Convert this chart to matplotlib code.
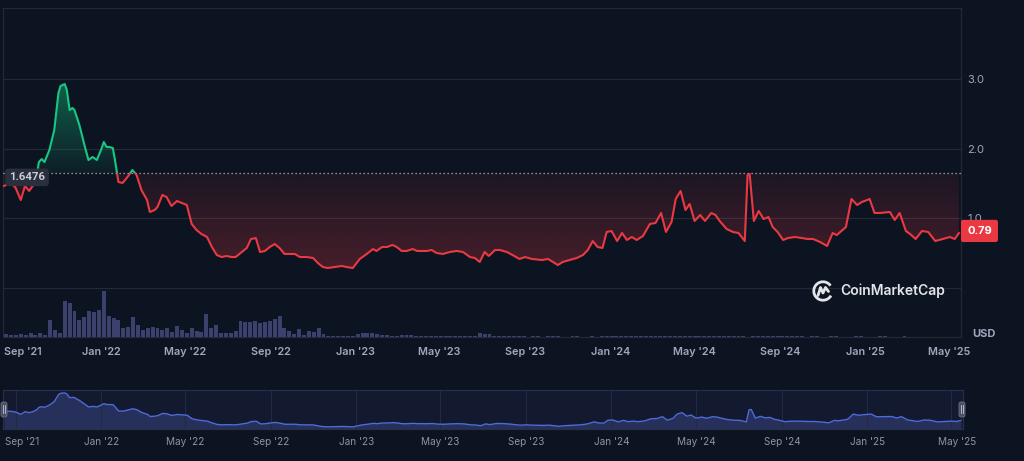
import matplotlib
matplotlib.use('Agg')
import matplotlib.pyplot as plt
import matplotlib.dates as mdates
from matplotlib.colors import to_rgb
from matplotlib.path import Path
from matplotlib.patches import Rectangle, FancyBboxPatch, Arc
from matplotlib.lines import Line2D
import numpy as np
import pandas as pd

plt.rcParams['font.family'] = ['Inter', 'DejaVu Sans']

BG = '#0d1421'
GRID = '#242936'
TXT = '#a1a7bb'
GREEN = '#16c784'
RED = '#ea3943'

# price trace (USD)
price_dates = [
    '2021-08-15', '2021-08-23', '2021-08-31', '2021-09-08', '2021-09-14', '2021-09-20', '2021-09-25',
    '2021-10-01', '2021-10-04', '2021-10-08', '2021-10-12', '2021-10-19', '2021-10-26', '2021-11-01',
    '2021-11-04', '2021-11-10', '2021-11-13', '2021-11-17', '2021-11-21', '2021-11-24', '2021-12-01',
    '2021-12-09', '2021-12-14', '2021-12-20', '2021-12-26', '2022-01-01', '2022-01-05', '2022-01-09',
    '2022-01-13', '2022-01-18', '2022-01-21', '2022-01-24', '2022-01-26', '2022-02-01', '2022-02-08',
    '2022-02-15', '2022-02-21', '2022-02-28', '2022-03-08', '2022-03-12', '2022-03-19', '2022-03-23',
    '2022-03-30', '2022-04-05', '2022-04-12', '2022-04-20', '2022-04-27', '2022-05-04', '2022-05-11',
    '2022-05-18', '2022-05-25', '2022-06-02', '2022-06-09', '2022-06-16', '2022-06-23', '2022-06-30',
    '2022-07-07', '2022-07-13', '2022-07-22', '2022-07-29', '2022-08-04', '2022-08-11', '2022-08-17',
    '2022-08-24', '2022-08-31', '2022-09-07', '2022-09-14', '2022-09-21', '2022-09-29', '2022-10-06',
    '2022-10-13', '2022-10-23', '2022-11-01', '2022-11-08', '2022-11-15', '2022-11-22', '2022-12-02',
    '2022-12-12', '2022-12-19', '2022-12-28', '2023-01-07', '2023-01-17', '2023-01-26', '2023-01-31',
    '2023-02-08', '2023-02-15', '2023-02-23', '2023-03-01', '2023-03-08', '2023-03-15', '2023-03-24',
    '2023-03-30', '2023-04-13', '2023-04-20', '2023-04-27', '2023-05-06', '2023-05-16', '2023-05-26',
    '2023-06-04', '2023-06-14', '2023-06-21', '2023-06-28', '2023-07-05', '2023-07-11', '2023-07-20',
    '2023-07-27', '2023-08-06', '2023-08-14', '2023-08-24', '2023-09-01', '2023-09-11', '2023-09-25',
    '2023-10-04', '2023-10-11', '2023-10-18', '2023-10-25', '2023-11-04', '2023-11-14', '2023-11-23',
    '2023-11-30', '2023-12-07', '2023-12-14', '2023-12-21', '2023-12-27', '2024-01-03', '2024-01-11',
    '2024-01-18', '2024-01-25', '2024-02-01', '2024-02-08', '2024-02-17', '2024-02-27', '2024-03-06',
    '2024-03-14', '2024-03-21', '2024-03-29', '2024-04-04', '2024-04-11', '2024-04-18', '2024-04-24',
    '2024-05-01', '2024-05-09', '2024-05-16', '2024-05-25', '2024-05-31', '2024-06-06', '2024-06-16',
    '2024-06-25', '2024-07-03', '2024-07-12', '2024-07-16', '2024-07-19', '2024-07-25', '2024-08-01',
    '2024-08-08', '2024-08-15', '2024-08-21', '2024-08-28', '2024-09-05', '2024-09-12', '2024-09-22',
    '2024-10-02', '2024-10-10', '2024-10-18', '2024-10-28', '2024-11-07', '2024-11-15', '2024-11-21',
    '2024-12-04', '2024-12-12', '2024-12-20', '2024-12-27', '2025-01-07', '2025-01-14', '2025-01-22',
    '2025-02-05', '2025-02-12', '2025-02-19', '2025-02-28', '2025-03-06', '2025-03-14', '2025-03-23',
    '2025-04-01', '2025-04-11', '2025-04-22', '2025-05-02', '2025-05-09', '2025-05-15',
]
price_usd = [
    1.466, 1.509, 1.451, 1.264, 1.466, 1.394, 1.466,
    1.624, 1.810, 1.853, 1.810, 1.983, 2.270, 2.802,
    2.902, 2.931, 2.845, 2.557, 2.586, 2.557, 2.342,
    2.026, 1.839, 1.882, 1.839, 1.983, 2.098, 2.026,
    2.026, 2.011, 1.839, 1.652, 1.523, 1.509, 1.595,
    1.695, 1.624, 1.408, 1.264, 1.092, 1.121, 1.164,
    1.336, 1.307, 1.178, 1.250, 1.221, 1.193, 0.920,
    0.833, 0.776, 0.733, 0.589, 0.474, 0.445, 0.460,
    0.445, 0.445, 0.517, 0.575, 0.704, 0.718, 0.517,
    0.532, 0.589, 0.632, 0.575, 0.489, 0.489, 0.489,
    0.445, 0.445, 0.431, 0.359, 0.302, 0.287, 0.302,
    0.316, 0.302, 0.287, 0.417, 0.489, 0.560, 0.532,
    0.589, 0.589, 0.618, 0.589, 0.532, 0.532, 0.560,
    0.532, 0.532, 0.546, 0.503, 0.489, 0.517, 0.532,
    0.517, 0.445, 0.431, 0.374, 0.517, 0.460, 0.546,
    0.546, 0.517, 0.474, 0.417, 0.445, 0.417, 0.402,
    0.417, 0.374, 0.330, 0.374, 0.402, 0.431, 0.474,
    0.546, 0.675, 0.589, 0.575, 0.805, 0.819, 0.675,
    0.790, 0.690, 0.733, 0.690, 0.747, 0.920, 0.934,
    1.078, 0.805, 0.948, 1.279, 1.394, 1.121, 1.207,
    0.963, 1.049, 0.963, 1.078, 1.049, 0.963, 0.848,
    0.805, 0.790, 0.675, 1.624, 1.638, 0.963, 1.106,
    0.991, 1.020, 0.876, 0.805, 0.690, 0.718, 0.733,
    0.718, 0.704, 0.704, 0.661, 0.603, 0.790, 0.761,
    0.876, 1.279, 1.193, 1.236, 1.279, 1.078, 1.078,
    1.092, 0.977, 1.078, 0.819, 0.776, 0.704, 0.819,
    0.805, 0.675, 0.704, 0.733, 0.704, 0.790,
]
base_price = 1.6476
last_price = 0.79

# weekly volume bars (relative height)
vol_first_week = '2021-08-18'
volume_rel = [
    3, 2, 2, 3, 2, 4, 2, 4, 2, 17, 7, 4, 36, 34, 26, 17, 20, 26, 25, 27,
    46, 21, 19, 17, 9, 10, 20, 12, 7, 9, 10, 9, 7, 9, 5, 11, 7, 4, 9, 6,
    5, 23, 9, 12, 4, 4, 4, 6, 16, 15, 15, 16, 14, 15, 16, 18, 21, 9, 6, 3,
    8, 2, 6, 5, 9, 3, 1.5, 1.5, 1, 1, 1, 1.5, 3, 4, 4, 4, 3.5, 2, 2, 1.5,
    1, 2, 2, 2, 1, 1, 1, 1, 1, 1, 1, 1, 1, 1, 1, 1, 1, 4, 3, 3,
    1, 0.8, 0.7, 0.6, 0.6, 0.7, 0.6, 0.5, 0.6, 0.6, 0.5, 0.6, 0.7, 0.6, 0.5, 0.5, 0.6, 0.6, 0.5, 0.5,
    0.6, 0.5, 0.6, 0.7, 0.7, 0.6, 0.6, 0.7, 0.8, 0.7, 0.6, 0.6, 0.7, 0.7, 0.8, 0.8, 0.7, 0.6, 0.7, 0.8,
    0.9, 0.8, 0.7, 0.7, 0.6, 0.6, 0.7, 0.6, 0.6, 0.7, 0.6, 0.6, 0.5, 0.6, 0.6, 0.6, 0.7, 0.8, 0.7, 0.7,
    0.7, 0.6, 0.6, 0.6, 0.5, 0.6, 0.6, 0.5, 0.5, 0.6, 0.6, 0.5, 0.5, 0.5, 0.6, 0.6, 0.5, 0.5, 0.5, 0.6,
    0.6, 0.5, 0.5, 0.5, 0.6, 0.5, 0.5, 0.5, 0.5, 0.5, 0.5, 0.5, 0.5, 0.5, 0.5,
]

tick_dates = ['2021-09-01', '2022-01-01', '2022-05-01', '2022-09-01', '2023-01-01', '2023-05-01',
              '2023-09-01', '2024-01-01', '2024-05-01', '2024-09-01', '2025-01-01', '2025-05-01']
tick_labels = ["Sep '21", "Jan '22", "May '22", "Sep '22", "Jan '23", "May '23",
               "Sep '23", "Jan '24", "May '24", "Sep '24", "Jan '25", "May '25"]
y_ticks = [0, 1, 2, 3]
y_labels = ['', '1.0', '2.0', '3.0']

x = pd.to_datetime(price_dates)
y = np.array(price_usd)
vol_x = pd.date_range(vol_first_week, periods=len(volume_rel), freq='7D')
ticks = pd.to_datetime(tick_dates)
x_left = pd.Timestamp('2021-08-13 12:00')
x_right = pd.Timestamp('2025-05-18')

W, H = 1024, 461
fig = plt.figure(figsize=(W / 100, H / 100), dpi=100, facecolor=BG)


def gradient_fill(ax, x, y, base, color, above, a_near, a_far):
    xn = mdates.date2num(x)
    if above:
        coll = ax.fill_between(x, y, base, where=y >= base, interpolate=True,
                               facecolor='none', edgecolor='none')
        y0, y1 = base, y.max()
        alphas = np.linspace(a_near, a_far, 256)
    else:
        coll = ax.fill_between(x, y, base, where=y <= base, interpolate=True,
                               facecolor='none', edgecolor='none')
        y0, y1 = y.min(), base
        alphas = np.linspace(a_far, a_near, 256)
    rgba = np.zeros((256, 1, 4))
    rgba[..., :3] = to_rgb(color)
    rgba[..., 3] = alphas[:, None]
    im = ax.imshow(rgba, extent=[xn[0], xn[-1], y0, y1], origin='lower',
                   aspect='auto', zorder=2, interpolation='bilinear')
    clip = Path.make_compound_path(*coll.get_paths())
    im.set_clip_path(clip, transform=ax.transData)


# ---- main price panel
ax = fig.add_axes([3 / W, 1 - 337 / H, 958 / W, 329 / H])
ax.set_facecolor(BG)
ln_g, = ax.plot(x, y, color=GREEN, lw=1.5, zorder=4, solid_joinstyle='round')
ln_r, = ax.plot(x, y, color=RED, lw=1.5, zorder=4, solid_joinstyle='round')
xn = mdates.date2num(x)
ln_g.set_clip_path(Rectangle((xn[0] - 100, base_price), 3000, 10, transform=ax.transData))
ln_r.set_clip_path(Rectangle((xn[0] - 100, -10), 3000, base_price + 10, transform=ax.transData))

gradient_fill(ax, x, y, base_price, GREEN, True, 0.06, 0.42)
gradient_fill(ax, x, y, base_price, RED, False, 0.07, 0.26)

ax.axhline(base_price, color='#b8bcc8', lw=0.9, ls=(0, (1, 2.2)), zorder=3)

ax.set_xlim(x_left, x_right)
ax.set_ylim(-0.704, 4.023)
ax.set_yticks(y_ticks)
ax.set_yticklabels(y_labels)
ax.yaxis.tick_right()
ax.tick_params(axis='y', length=0, pad=4.5, labelsize=8, labelcolor=TXT)
ax.set_xticks(ticks)
ax.set_xticklabels([])
ax.tick_params(axis='x', length=0)
ax.grid(axis='y', color=GRID, lw=0.9)
for s in ax.spines.values():
    s.set_color(GRID)
    s.set_linewidth(0.9)

for i, (t, lab) in enumerate(zip(ticks, tick_labels)):
    dx = 4.7 if i == 0 else 0
    ax.annotate(lab, xy=(t, 0), xycoords=('data', 'axes fraction'),
                xytext=(dx, -10.8), textcoords='offset points', ha='center', va='center',
                fontsize=7.8, color=TXT, fontweight='semibold')

ax.annotate('USD', xy=(1, 0), xycoords='axes fraction', xytext=(8, 2.2),
            textcoords='offset points', ha='left', va='center',
            fontsize=8, color=TXT, fontweight='bold')

# baseline and last price tags
ax.annotate('1.6476', xy=(0, base_price), xycoords=('axes fraction', 'data'),
            xytext=(17.3, -2.9), textcoords='offset points', ha='center', va='center',
            fontsize=8.2, color='#c9ccd6', fontweight='semibold', zorder=6,
            fontfamily=['Roboto', 'DejaVu Sans'],
            bbox=dict(boxstyle='round,pad=0.33,rounding_size=0.25', fc='#2a2f3d', ec='none'))
ax.annotate(f'{last_price:.2f}', xy=(1, last_price), xycoords=('axes fraction', 'data'),
            xytext=(13.3, 1.5), textcoords='offset points', ha='center', va='center',
            fontsize=8, color='white', fontweight='bold', zorder=6, annotation_clip=False,
            bbox=dict(boxstyle='round,pad=0.55,rounding_size=0.2', fc=RED, ec='none'))

# ---- volume bars
axv = fig.add_axes([3 / W, 1 - 337 / H, 958 / W, 49 / H])
axv.patch.set_alpha(0)
axv.bar(vol_x, volume_rel, width=5.6, color='#3b416c', align='center')
axv.set_xlim(x_left, x_right)
axv.set_ylim(0, 49)
axv.axis('off')

# ---- watermark
trans = fig.dpi_scale_trans
cx, cy, r = 8.23, (H - 291) / 100, 0.092
fig.add_artist(Arc((cx, cy), 2 * r, 2 * r, theta1=35, theta2=330, transform=trans,
                   color='#e3e5ea', lw=2.0))
mx = [cx - 0.05, cx - 0.025, cx, cx + 0.025, cx + 0.055]
my = [cy - 0.045, cy + 0.035, cy - 0.02, cy + 0.035, cy - 0.005]
fig.add_artist(Line2D(mx, my, transform=trans, color='#e3e5ea', lw=2.0,
                      solid_joinstyle='round', solid_capstyle='round'))
fig.text(840 / W, 1 - 291 / H, 'CoinMarketCap', ha='left', va='center',
         fontsize=10, color='#e3e5ea', fontweight='semibold')

# ---- navigator
axn = fig.add_axes([3 / W, 1 - 429 / H, 960 / W, 39 / H])
axn.set_facecolor('#131a30')
axn.fill_between(x, y, 0, color='#27305a', lw=0)
axn.plot(x, y, color='#4e6bd8', lw=1.0)
axn.set_xlim(x_left, x_right)
axn.set_ylim(0.12, 3.16)
axn.set_xticks(ticks)
axn.set_xticklabels([])
axn.set_yticks([])
axn.tick_params(length=0)
axn.grid(axis='x', color='#232a42', lw=0.8)
for s in axn.spines.values():
    s.set_color('#283049')
    s.set_linewidth(0.8)
for i, (t, lab) in enumerate(zip(ticks, tick_labels)):
    dx = 4.5 if i == 0 else 4.0 if i == len(ticks) - 1 else 0
    axn.annotate(lab, xy=(t, 0), xycoords=('data', 'axes fraction'),
                 xytext=(dx, -9.6), textcoords='offset points', ha='center', va='center',
                 fontsize=7.2, color='#8d93a5', annotation_clip=False)

for hx in (4, 962):
    fig.add_artist(FancyBboxPatch((hx / 100 - 0.03, (H - 417) / 100), 0.06, 0.15,
                                  boxstyle='round,pad=0,rounding_size=0.02', transform=trans,
                                  fc='#4b5164', ec='#6a7084', lw=0.6))
    for off in (-0.008, 0.008):
        fig.add_artist(Line2D([hx / 100 + off] * 2, [(H - 413) / 100, (H - 405) / 100],
                              transform=trans, color='#c3c7d1', lw=0.6))

fig.savefig('out.png', dpi=100, facecolor=BG)
